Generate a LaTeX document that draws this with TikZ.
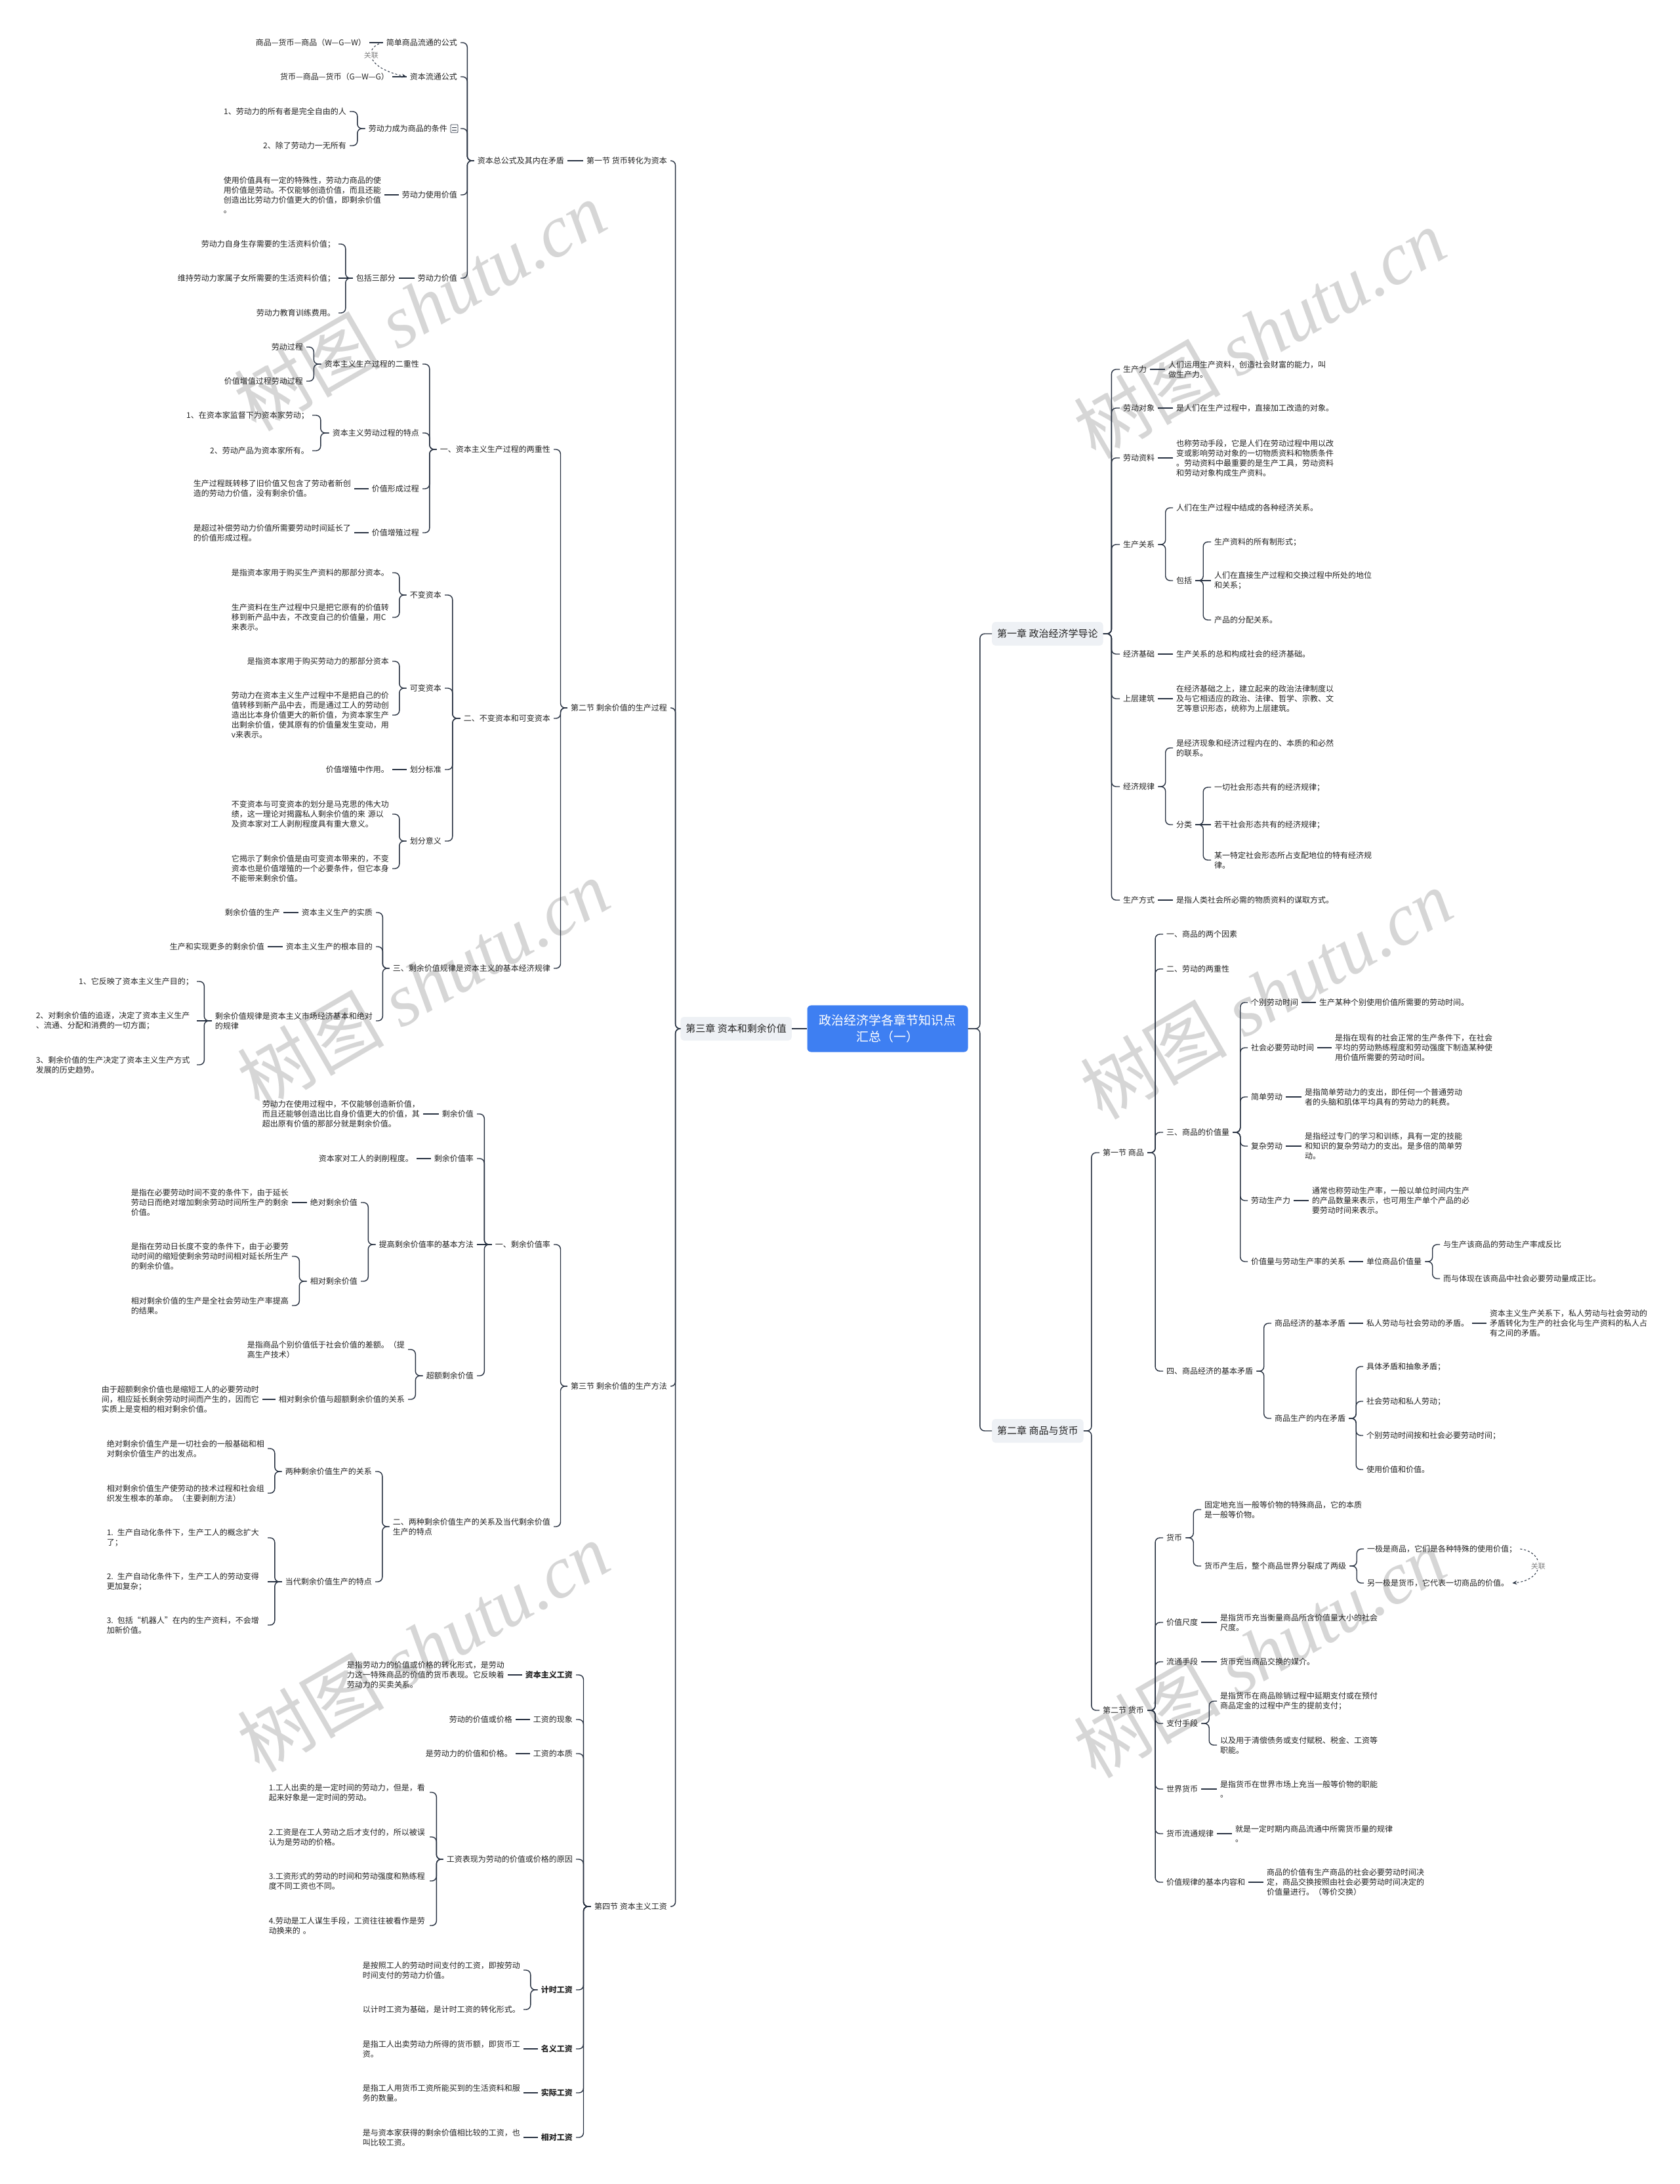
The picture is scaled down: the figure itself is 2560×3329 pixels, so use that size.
\documentclass[tikz,border=0pt]{standalone}
\usepackage{fontspec}
\setmainfont{Noto Sans CJK SC}
\newfontfamily\wmlatin{Liberation Serif}
\usetikzlibrary{calc,arrows.meta}
\definecolor{ink}{HTML}{222222}
\definecolor{edge}{HTML}{283242}
\definecolor{rootblue}{HTML}{3E7FF2}
\definecolor{chapfill}{HTML}{EEF1F5}
\definecolor{wmgray}{HTML}{D6D6D6}
\tikzset{
  leaf/.style={font=\fontsize{12}{15}\selectfont, text=ink, inner xsep=5pt, inner ysep=2pt, align=left},
  desc/.style={leaf, text width=240pt},
  chap/.style={font=\fontsize{15}{18}\selectfont, text=ink, fill=chapfill, rounded corners=5pt, inner xsep=8pt, minimum height=36pt},
  root/.style={font=\fontsize{19}{25}\selectfont, text=white, fill=rootblue, rounded corners=6pt, inner xsep=18pt, inner ysep=14pt, align=center},
  link/.style={draw=edge, line width=1.4pt, rounded corners=7pt},
  elbow/.style={to path={let \p1=(\tikztostart), \p2=(\tikztotarget) in
    -- ({0.5*\x1+0.5*\x2},\y1) -- ({0.5*\x1+0.5*\x2},\y2) -- (\tikztotarget)}},
  rel/.style={draw=edge, line width=1pt, dashed, -{Stealth[length=7pt,width=6pt]}},
  rellabel/.style={font=\fontsize{11}{13}\selectfont, text=gray, fill=white, inner sep=1pt},
  wm/.style={text=wmgray, rotate=30, font=\fontsize{112}{112}\selectfont}
}
\begin{document}
\begin{tikzpicture}[x=1pt,y=-1pt]
\useasboundingbox (0,0) rectangle (2560,3329);
\fill[white] (0,0) rectangle (2560,3329);

\node[wm] at (640,466) {树图 {\wmlatin\itshape shutu.cn}};
\node[wm] at (645,1500) {树图 {\wmlatin\itshape shutu.cn}};
\node[wm] at (645,2510) {树图 {\wmlatin\itshape shutu.cn}};
\node[wm] at (1920,508) {树图 {\wmlatin\itshape shutu.cn}};
\node[wm] at (1930,1515) {树图 {\wmlatin\itshape shutu.cn}};
\node[wm] at (1920,2519) {树图 {\wmlatin\itshape shutu.cn}};

\node[root] (root) at (1353,1568) {政治经济学各章节知识点\\汇总（一）};
\node[chap,anchor=east] (c3) at (1207,1568) {第三章 资本和剩余价值};
\node[chap,anchor=west] (ch1) at (1512,966) {第一章 政治经济学导论};
\node[chap,anchor=west] (ch2) at (1512,2181) {第二章 商品与货币};

\node[leaf,anchor=east] (s1) at (1022,245) {第一节 货币转化为资本};
\node[leaf,anchor=east] (s2) at (1022,1079) {第二节 剩余价值的生产过程};
\node[leaf,anchor=east] (s3) at (1022,2113) {第三节 剩余价值的生产方法};
\node[leaf,anchor=east] (s4) at (1022,2906) {第四节 资本主义工资};

\node[leaf,anchor=east] (a1) at (865,245) {资本总公式及其内在矛盾};
\node[leaf,anchor=east] (a11) at (702,65) {简单商品流通的公式};
\node[leaf,anchor=east] (a12) at (702,117) {资本流通公式};
\node[leaf,anchor=east] (a13) at (702,196) {劳动力成为商品的条件\hspace{15pt}};
\node[leaf,anchor=east] (a14) at (702,297) {劳动力使用价值};
\node[leaf,anchor=east] (a15) at (702,424) {劳动力价值};
\node[leaf,anchor=east] (a111) at (563,65) {商品—货币—商品（W—G—W）};
\node[leaf,anchor=east] (a121) at (598,117) {货币—商品—货币（G—W—G）};
\node[leaf,anchor=east] (a131) at (533,170) {1、劳动力的所有者是完全自由的人};
\node[leaf,anchor=east] (a132) at (533,222) {2、除了劳动力一无所有};
\node[desc,anchor=east] (a141) at (586,297) {使用价值具有一定的特殊性，劳动力商品的使\\用价值是劳动。不仅能够创造价值，而且还能\\创造出比劳动力价值更大的价值，即剩余价值\\。};
\node[leaf,anchor=east] (a151) at (608,424) {包括三部分};
\node[leaf,anchor=east] (a1511) at (516,372) {劳动力自身生存需要的生活资料价值；};
\node[leaf,anchor=east] (a1512) at (516,424) {维持劳动力家属子女所需要的生活资料价值；};
\node[leaf,anchor=east] (a1513) at (516,477) {劳动力教育训练费用。};

\node[leaf,anchor=east] (b1) at (844,685) {一、资本主义生产过程的两重性};
\node[leaf,anchor=east] (b2) at (844,1095) {二、不变资本和可变资本};
\node[leaf,anchor=east] (b3) at (844,1476) {三、剩余价值规律是资本主义的基本经济规律};
\node[leaf,anchor=east] (b11) at (644,555) {资本主义生产过程的二重性};
\node[leaf,anchor=east] (b12) at (644,660) {资本主义劳动过程的特点};
\node[leaf,anchor=east] (b13) at (644,745) {价值形成过程};
\node[leaf,anchor=east] (b14) at (644,812) {价值增殖过程};
\node[leaf,anchor=east] (b111) at (467,529) {劳动过程};
\node[leaf,anchor=east] (b112) at (467,581) {价值增值过程劳动过程};
\node[leaf,anchor=east] (b121) at (476,633) {1、在资本家监督下为资本家劳动；};
\node[leaf,anchor=east] (b122) at (476,687) {2、劳动产品为资本家所有。};
\node[desc,anchor=east] (b131) at (540,745) {生产过程既转移了旧价值又包含了劳动者新创\\造的劳动力价值，没有剩余价值。};
\node[desc,anchor=east] (b141) at (540,812) {是超过补偿劳动力价值所需要劳动时间延长了\\的价值形成过程。};
\node[leaf,anchor=east] (b21) at (678,907) {不变资本};
\node[leaf,anchor=east] (b22) at (678,1049) {可变资本};
\node[leaf,anchor=east] (b23) at (678,1173) {划分标准};
\node[leaf,anchor=east] (b24) at (678,1282) {划分意义};
\node[leaf,anchor=east] (b211) at (598,873) {是指资本家用于购买生产资料的那部分资本。};
\node[desc,anchor=east] (b212) at (598,941) {生产资料在生产过程中只是把它原有的价值转\\移到新产品中去，不改变自己的价值量，用C\\来表示。};
\node[leaf,anchor=east] (b221) at (598,1008) {是指资本家用于购买劳动力的那部分资本};
\node[desc,anchor=east] (b222) at (598,1090) {劳动力在资本主义生产过程中不是把自己的价\\值转移到新产品中去，而是通过工人的劳动创\\造出比本身价值更大的新价值，为资本家生产\\出剩余价值，使其原有的价值量发生变动，用\\v来表示。};
\node[leaf,anchor=east] (b231) at (598,1173) {价值增殖中作用。};
\node[desc,anchor=east] (b241) at (598,1241) {不变资本与可变资本的划分是马克思的伟大功\\绩，这一理论对揭露私人剩余价值的来 源以\\及资本家对工人剥削程度具有重大意义。};
\node[desc,anchor=east] (b242) at (598,1324) {它揭示了剩余价值是由可变资本带来的，不变\\资本也是价值增殖的一个必要条件，但它本身\\不能带来剩余价值。};
\node[leaf,anchor=east] (b31) at (573,1391) {资本主义生产的实质};
\node[leaf,anchor=east] (b32) at (573,1443) {资本主义生产的根本目的};
\node[desc,anchor=east] (b33) at (573,1556) {剩余价值规律是资本主义市场经济基本和绝对\\的规律};
\node[leaf,anchor=east] (b311) at (432,1391) {剩余价值的生产};
\node[leaf,anchor=east] (b321) at (408,1443) {生产和实现更多的剩余价值};
\node[leaf,anchor=east] (b331) at (300,1496) {1、它反映了资本主义生产目的；};
\node[desc,anchor=east] (b332) at (300,1556) {2、对剩余价值的追逐，决定了资本主义生产\\、流通、分配和消费的一切方面；};
\node[desc,anchor=east] (b333) at (300,1623) {3、剩余价值的生产决定了资本主义生产方式\\发展的历史趋势。};

\node[leaf,anchor=east] (c1) at (844,1897) {一、剩余价值率};
\node[desc,anchor=east] (c2) at (844,2327) {二、两种剩余价值生产的关系及当代剩余价值\\生产的特点};
\node[leaf,anchor=east] (c11) at (727,1698) {剩余价值};
\node[leaf,anchor=east] (c12) at (727,1766) {剩余价值率};
\node[leaf,anchor=east] (c13) at (727,1897) {提高剩余价值率的基本方法};
\node[leaf,anchor=east] (c14) at (727,2097) {超额剩余价值};
\node[desc,anchor=east] (c111) at (645,1698) {劳动力在使用过程中，不仅能够创造新价值，\\而且还能够创造出比自身价值更大的价值，其\\超出原有价值的那部分就是剩余价值。};
\node[leaf,anchor=east] (c121) at (635,1766) {资本家对工人的剥削程度。};
\node[leaf,anchor=east] (c131) at (550,1833) {绝对剩余价值};
\node[leaf,anchor=east] (c132) at (550,1953) {相对剩余价值};
\node[desc,anchor=east] (c1311) at (445,1833) {是指在必要劳动时间不变的条件下，由于延长\\劳动日而绝对增加剩余劳动时间所生产的剩余\\价值。};
\node[desc,anchor=east] (c1321) at (445,1915) {是指在劳动日长度不变的条件下，由于必要劳\\动时间的缩短使剩余劳动时间相对延长所生产\\的剩余价值。};
\node[desc,anchor=east] (c1322) at (445,1990) {相对剩余价值的生产是全社会劳动生产率提高\\的结果。};
\node[desc,anchor=east] (c141) at (622,2057) {是指商品个别价值低于社会价值的差额。（提\\高生产技术）};
\node[leaf,anchor=east] (c142) at (622,2133) {相对剩余价值与超额剩余价值的关系};
\node[desc,anchor=east] (c1421) at (400,2133) {由于超额剩余价值也是缩短工人的必要劳动时\\间，相应延长剩余劳动时间而产生的，因而它\\实质上是变相的相对剩余价值。};
\node[leaf,anchor=east] (c21) at (572,2243) {两种剩余价值生产的关系};
\node[leaf,anchor=east] (c22) at (572,2411) {当代剩余价值生产的特点};
\node[desc,anchor=east] (c211) at (408,2208) {绝对剩余价值生产是一切社会的一般基础和相\\对剩余价值生产的出发点。};
\node[desc,anchor=east] (c212) at (408,2276) {相对剩余价值生产使劳动的技术过程和社会组\\织发生根本的革命。（主要剥削方法）};
\node[desc,anchor=east] (c221) at (408,2344) {1. 生产自动化条件下，生产工人的概念扩大\\了；};
\node[desc,anchor=east] (c222) at (408,2411) {2. 生产自动化条件下，生产工人的劳动变得\\更加复杂；};
\node[desc,anchor=east] (c223) at (408,2477) {3. 包括“机器人”在内的生产资料，不会增\\加新价值。};

\node[leaf,anchor=east] (d1) at (878,2553) {\bfseries 资本主义工资};
\node[leaf,anchor=east] (d2) at (878,2621) {工资的现象};
\node[leaf,anchor=east] (d3) at (878,2673) {工资的本质};
\node[leaf,anchor=east] (d4) at (878,2834) {工资表现为劳动的价值或价格的原因};
\node[leaf,anchor=east] (d5) at (878,3033) {\bfseries 计时工资};
\node[leaf,anchor=east] (d6) at (878,3123) {\bfseries 名义工资};
\node[leaf,anchor=east] (d7) at (878,3190) {\bfseries 实际工资};
\node[leaf,anchor=east] (d8) at (878,3258) {\bfseries 相对工资};
\node[desc,anchor=east] (d11) at (774,2553) {是指劳动力的价值或价格的转化形式，是劳动\\力这一特殊商品的价值的货币表现。它反映着\\劳动力的买卖关系。};
\node[leaf,anchor=east] (d21) at (786,2621) {劳动的价值或价格};
\node[leaf,anchor=east] (d31) at (786,2673) {是劳动力的价值和价格。};
\node[desc,anchor=east] (d41) at (655,2732) {1.工人出卖的是一定时间的劳动力，但是，看\\起来好象是一定时间的劳动。};
\node[desc,anchor=east] (d42) at (655,2800) {2.工资是在工人劳动之后才支付的，所以被误\\认为是劳动的价格。};
\node[desc,anchor=east] (d43) at (655,2867) {3.工资形式的劳动的时间和劳动强度和熟练程\\度不同工资也不同。};
\node[desc,anchor=east] (d44) at (655,2935) {4.劳动是工人谋生手段，工资往往被看作是劳\\动换来的 。};
\node[desc,anchor=east] (d51) at (798,3003) {是按照工人的劳动时间支付的工资，即按劳动\\时间支付的劳动力价值。};
\node[leaf,anchor=east] (d52) at (798,3063) {以计时工资为基础，是计时工资的转化形式。};
\node[desc,anchor=east] (d61) at (798,3123) {是指工人出卖劳动力所得的货币额，即货币工\\资。};
\node[desc,anchor=east] (d71) at (798,3190) {是指工人用货币工资所能买到的生活资料和服\\务的数量。};
\node[desc,anchor=east] (d81) at (798,3258) {是与资本家获得的剩余价值相比较的工资，也\\叫比较工资。};

\node[leaf,anchor=west] (e1) at (1707,563) {生产力};
\node[leaf,anchor=west] (e2) at (1707,622) {劳动对象};
\node[leaf,anchor=west] (e3) at (1707,698) {劳动资料};
\node[leaf,anchor=west] (e4) at (1707,830) {生产关系};
\node[leaf,anchor=west] (e5) at (1707,997) {经济基础};
\node[leaf,anchor=west] (e6) at (1707,1065) {上层建筑};
\node[leaf,anchor=west] (e7) at (1707,1199) {经济规律};
\node[leaf,anchor=west] (e8) at (1707,1372) {生产方式};
\node[desc,anchor=west] (e11) at (1776,563) {人们运用生产资料，创造社会财富的能力，叫\\做生产力。};
\node[leaf,anchor=west] (e21) at (1788,622) {是人们在生产过程中，直接加工改造的对象。};
\node[desc,anchor=west] (e31) at (1788,698) {也称劳动手段，它是人们在劳动过程中用以改\\变或影响劳动对象的一切物质资料和物质条件\\。劳动资料中最重要的是生产工具，劳动资料\\和劳动对象构成生产资料。};
\node[leaf,anchor=west] (e41) at (1788,774) {人们在生产过程中结成的各种经济关系。};
\node[leaf,anchor=west] (e42) at (1788,885) {包括};
\node[leaf,anchor=west] (e421) at (1846,826) {生产资料的所有制形式；};
\node[desc,anchor=west] (e422) at (1846,885) {人们在直接生产过程和交换过程中所处的地位\\和关系；};
\node[leaf,anchor=west] (e423) at (1846,945) {产品的分配关系。};
\node[leaf,anchor=west] (e51) at (1788,997) {生产关系的总和构成社会的经济基础。};
\node[desc,anchor=west] (e61) at (1788,1065) {在经济基础之上，建立起来的政治法律制度以\\及与它相适应的政治、法律、哲学、宗教、文\\艺等意识形态，统称为上层建筑。};
\node[desc,anchor=west] (e71) at (1788,1140) {是经济现象和经济过程内在的、本质的和必然\\的联系。};
\node[leaf,anchor=west] (e72) at (1788,1257) {分类};
\node[leaf,anchor=west] (e721) at (1846,1200) {一切社会形态共有的经济规律；};
\node[leaf,anchor=west] (e722) at (1846,1257) {若干社会形态共有的经济规律；};
\node[desc,anchor=west] (e723) at (1846,1311) {某一特定社会形态所占支配地位的特有经济规\\律。};
\node[leaf,anchor=west] (e81) at (1788,1372) {是指人类社会所必需的物质资料的谋取方式。};

\node[leaf,anchor=west] (f1) at (1676,1757) {第一节 商品};
\node[leaf,anchor=west] (f2) at (1676,2607) {第二节 货币};
\node[leaf,anchor=west] (f11) at (1773,1424) {一、商品的两个因素};
\node[leaf,anchor=west] (f12) at (1773,1477) {二、劳动的两重性};
\node[leaf,anchor=west] (f13) at (1773,1726) {三、商品的价值量};
\node[leaf,anchor=west] (f14) at (1773,2090) {四、商品经济的基本矛盾};
\node[leaf,anchor=west] (f131) at (1902,1528) {个别劳动时间};
\node[leaf,anchor=west] (f132) at (1902,1597) {社会必要劳动时间};
\node[leaf,anchor=west] (f133) at (1902,1672) {简单劳动};
\node[leaf,anchor=west] (f134) at (1902,1747) {复杂劳动};
\node[leaf,anchor=west] (f135) at (1902,1830) {劳动生产力};
\node[leaf,anchor=west] (f136) at (1902,1923) {价值量与劳动生产率的关系};
\node[leaf,anchor=west] (f1311) at (2006,1528) {生产某种个别使用价值所需要的劳动时间。};
\node[desc,anchor=west] (f1321) at (2030,1597) {是指在现有的社会正常的生产条件下，在社会\\平均的劳动熟练程度和劳动强度下制造某种使\\用价值所需要的劳动时间。};
\node[desc,anchor=west] (f1331) at (1984,1672) {是指简单劳动力的支出，即任何一个普通劳动\\者的头脑和肌体平均具有的劳动力的耗费。};
\node[desc,anchor=west] (f1341) at (1984,1747) {是指经过专门的学习和训练，具有一定的技能\\和知识的复杂劳动力的支出。是多倍的简单劳\\动。};
\node[desc,anchor=west] (f1351) at (1995,1830) {通常也称劳动生产率，一般以单位时间内生产\\的产品数量来表示，也可用生产单个产品的必\\要劳动时间来表示。};
\node[leaf,anchor=west] (f1361) at (2078,1923) {单位商品价值量};
\node[leaf,anchor=west] (f13611) at (2195,1897) {与生产该商品的劳动生产率成反比};
\node[leaf,anchor=west] (f13612) at (2195,1949) {而与体现在该商品中社会必要劳动量成正比。};
\node[leaf,anchor=west] (f141) at (1938,2017) {商品经济的基本矛盾};
\node[leaf,anchor=west] (f142) at (1938,2162) {商品生产的内在矛盾};
\node[leaf,anchor=west] (f1411) at (2078,2017) {私人劳动与社会劳动的矛盾。};
\node[desc,anchor=west] (f14111) at (2266,2017) {资本主义生产关系下，私人劳动与社会劳动的\\矛盾转化为生产的社会化与生产资料的私人占\\有之间的矛盾。};
\node[leaf,anchor=west] (f1421) at (2078,2083) {具体矛盾和抽象矛盾；};
\node[leaf,anchor=west] (f1422) at (2078,2136) {社会劳动和私人劳动；};
\node[leaf,anchor=west] (f1423) at (2078,2188) {个别劳动时间按和社会必要劳动时间；};
\node[leaf,anchor=west] (f1424) at (2078,2240) {使用价值和价值。};
\node[leaf,anchor=west] (f21) at (1773,2344) {货币};
\node[leaf,anchor=west] (f22) at (1773,2473) {价值尺度};
\node[leaf,anchor=west] (f23) at (1773,2533) {流通手段};
\node[leaf,anchor=west] (f24) at (1773,2627) {支付手段};
\node[leaf,anchor=west] (f25) at (1773,2727) {世界货币};
\node[leaf,anchor=west] (f26) at (1773,2795) {货币流通规律};
\node[leaf,anchor=west] (f27) at (1773,2869) {价值规律的基本内容和};
\node[desc,anchor=west] (f211) at (1831,2301) {固定地充当一般等价物的特殊商品，它的本质\\是一般等价物。};
\node[leaf,anchor=west] (f212) at (1831,2387) {货币产生后，整个商品世界分裂成了两级};
\node[leaf,anchor=west] (f2121) at (2079,2361) {一极是商品，它们是各种特殊的使用价值；};
\node[leaf,anchor=west] (f2122) at (2079,2413) {另一极是货币，它代表一切商品的价值。};
\node[desc,anchor=west] (f221) at (1855,2473) {是指货币充当衡量商品所含价值量大小的社会\\尺度。};
\node[leaf,anchor=west] (f231) at (1855,2533) {货币充当商品交换的媒介。};
\node[desc,anchor=west] (f241) at (1855,2593) {是指货币在商品赊销过程中延期支付或在预付\\商品定金的过程中产生的提前支付；};
\node[desc,anchor=west] (f242) at (1855,2660) {以及用于清偿债务或支付赋税、税金、工资等\\职能。};
\node[desc,anchor=west] (f251) at (1855,2727) {是指货币在世界市场上充当一般等价物的职能\\。};
\node[desc,anchor=west] (f261) at (1878,2795) {就是一定时期内商品流通中所需货币量的规律\\。};
\node[desc,anchor=west] (f271) at (1926,2869) {商品的价值有生产商品的社会必要劳动时间决\\定，商品交换按照由社会必要劳动时间决定的\\价值量进行。（等价交换）};

\draw[edge,line width=0.9pt,rounded corners=1pt] ($(a13.east)+(-15,-6)$) rectangle ++(11,12);
\draw[edge,line width=0.7pt] ($(a13.east)+(-13,-2)$) -- ++(7,0) ($(a13.east)+(-13,2)$) -- ++(7,0);

\draw[link] (root.west) -- (c3.east);
\draw[link] (root.east) to[elbow] (ch1.west);
\draw[link] (root.east) to[elbow] (ch2.west);

\draw[link] (c3.west) to[elbow] (s1.east);
\draw[link] (c3.west) to[elbow] (s2.east);
\draw[link] (c3.west) to[elbow] (s3.east);
\draw[link] (c3.west) to[elbow] (s4.east);

\draw[link] (s1.west) -- (a1.east);
\draw[link] (a1.west) to[elbow] (a11.east);
\draw[link] (a1.west) to[elbow] (a12.east);
\draw[link] (a1.west) to[elbow] (a13.east);
\draw[link] (a1.west) to[elbow] (a14.east);
\draw[link] (a1.west) to[elbow] (a15.east);
\draw[link] (a11.west) -- (a111.east);
\draw[link] (a12.west) -- (a121.east);
\draw[link] (a13.west) to[elbow] (a131.east);
\draw[link] (a13.west) to[elbow] (a132.east);
\draw[link] (a14.west) -- (a141.east);
\draw[link] (a15.west) -- (a151.east);
\draw[link] (a151.west) to[elbow] (a1511.east);
\draw[link] (a151.west) -- (a1512.east);
\draw[link] (a151.west) to[elbow] (a1513.east);

\draw[link] (s2.west) to[elbow] (b1.east);
\draw[link] (s2.west) to[elbow] (b2.east);
\draw[link] (s2.west) to[elbow] (b3.east);
\draw[link] (b1.west) to[elbow] (b11.east);
\draw[link] (b1.west) to[elbow] (b12.east);
\draw[link] (b1.west) to[elbow] (b13.east);
\draw[link] (b1.west) to[elbow] (b14.east);
\draw[link] (b11.west) to[elbow] (b111.east);
\draw[link] (b11.west) to[elbow] (b112.east);
\draw[link] (b12.west) to[elbow] (b121.east);
\draw[link] (b12.west) to[elbow] (b122.east);
\draw[link] (b13.west) -- (b131.east);
\draw[link] (b14.west) -- (b141.east);
\draw[link] (b2.west) to[elbow] (b21.east);
\draw[link] (b2.west) to[elbow] (b22.east);
\draw[link] (b2.west) to[elbow] (b23.east);
\draw[link] (b2.west) to[elbow] (b24.east);
\draw[link] (b21.west) to[elbow] (b211.east);
\draw[link] (b21.west) to[elbow] (b212.east);
\draw[link] (b22.west) to[elbow] (b221.east);
\draw[link] (b22.west) to[elbow] (b222.east);
\draw[link] (b23.west) -- (b231.east);
\draw[link] (b24.west) to[elbow] (b241.east);
\draw[link] (b24.west) to[elbow] (b242.east);
\draw[link] (b3.west) to[elbow] (b31.east);
\draw[link] (b3.west) to[elbow] (b32.east);
\draw[link] (b3.west) to[elbow] (b33.east);
\draw[link] (b31.west) -- (b311.east);
\draw[link] (b32.west) -- (b321.east);
\draw[link] (b33.west) to[elbow] (b331.east);
\draw[link] (b33.west) -- (b332.east);
\draw[link] (b33.west) to[elbow] (b333.east);

\draw[link] (s3.west) to[elbow] (c1.east);
\draw[link] (s3.west) to[elbow] (c2.east);
\draw[link] (c1.west) to[elbow] (c11.east);
\draw[link] (c1.west) to[elbow] (c12.east);
\draw[link] (c1.west) -- (c13.east);
\draw[link] (c1.west) to[elbow] (c14.east);
\draw[link] (c11.west) -- (c111.east);
\draw[link] (c12.west) -- (c121.east);
\draw[link] (c13.west) to[elbow] (c131.east);
\draw[link] (c13.west) to[elbow] (c132.east);
\draw[link] (c131.west) -- (c1311.east);
\draw[link] (c132.west) to[elbow] (c1321.east);
\draw[link] (c132.west) to[elbow] (c1322.east);
\draw[link] (c14.west) to[elbow] (c141.east);
\draw[link] (c14.west) to[elbow] (c142.east);
\draw[link] (c142.west) -- (c1421.east);
\draw[link] (c2.west) to[elbow] (c21.east);
\draw[link] (c2.west) to[elbow] (c22.east);
\draw[link] (c21.west) to[elbow] (c211.east);
\draw[link] (c21.west) to[elbow] (c212.east);
\draw[link] (c22.west) to[elbow] (c221.east);
\draw[link] (c22.west) -- (c222.east);
\draw[link] (c22.west) to[elbow] (c223.east);

\draw[link] (s4.west) to[elbow] (d1.east);
\draw[link] (s4.west) to[elbow] (d2.east);
\draw[link] (s4.west) to[elbow] (d3.east);
\draw[link] (s4.west) to[elbow] (d4.east);
\draw[link] (s4.west) to[elbow] (d5.east);
\draw[link] (s4.west) to[elbow] (d6.east);
\draw[link] (s4.west) to[elbow] (d7.east);
\draw[link] (s4.west) to[elbow] (d8.east);
\draw[link] (d1.west) -- (d11.east);
\draw[link] (d2.west) -- (d21.east);
\draw[link] (d3.west) -- (d31.east);
\draw[link] (d4.west) to[elbow] (d41.east);
\draw[link] (d4.west) to[elbow] (d42.east);
\draw[link] (d4.west) to[elbow] (d43.east);
\draw[link] (d4.west) to[elbow] (d44.east);
\draw[link] (d5.west) to[elbow] (d51.east);
\draw[link] (d5.west) to[elbow] (d52.east);
\draw[link] (d6.west) -- (d61.east);
\draw[link] (d7.west) -- (d71.east);
\draw[link] (d8.west) -- (d81.east);

\draw[link] (ch1.east) to[elbow] (e1.west);
\draw[link] (ch1.east) to[elbow] (e2.west);
\draw[link] (ch1.east) to[elbow] (e3.west);
\draw[link] (ch1.east) to[elbow] (e4.west);
\draw[link] (ch1.east) to[elbow] (e5.west);
\draw[link] (ch1.east) to[elbow] (e6.west);
\draw[link] (ch1.east) to[elbow] (e7.west);
\draw[link] (ch1.east) to[elbow] (e8.west);
\draw[link] (e1.east) -- (e11.west);
\draw[link] (e2.east) -- (e21.west);
\draw[link] (e3.east) -- (e31.west);
\draw[link] (e4.east) to[elbow] (e41.west);
\draw[link] (e4.east) to[elbow] (e42.west);
\draw[link] (e42.east) to[elbow] (e421.west);
\draw[link] (e42.east) -- (e422.west);
\draw[link] (e42.east) to[elbow] (e423.west);
\draw[link] (e5.east) -- (e51.west);
\draw[link] (e6.east) -- (e61.west);
\draw[link] (e7.east) to[elbow] (e71.west);
\draw[link] (e7.east) to[elbow] (e72.west);
\draw[link] (e72.east) to[elbow] (e721.west);
\draw[link] (e72.east) -- (e722.west);
\draw[link] (e72.east) to[elbow] (e723.west);
\draw[link] (e8.east) -- (e81.west);

\draw[link] (ch2.east) to[elbow] (f1.west);
\draw[link] (ch2.east) to[elbow] (f2.west);
\draw[link] (f1.east) to[elbow] (f11.west);
\draw[link] (f1.east) to[elbow] (f12.west);
\draw[link] (f1.east) to[elbow] (f13.west);
\draw[link] (f1.east) to[elbow] (f14.west);
\draw[link] (f13.east) to[elbow] (f131.west);
\draw[link] (f13.east) to[elbow] (f132.west);
\draw[link] (f13.east) to[elbow] (f133.west);
\draw[link] (f13.east) to[elbow] (f134.west);
\draw[link] (f13.east) to[elbow] (f135.west);
\draw[link] (f13.east) to[elbow] (f136.west);
\draw[link] (f131.east) -- (f1311.west);
\draw[link] (f132.east) -- (f1321.west);
\draw[link] (f133.east) -- (f1331.west);
\draw[link] (f134.east) -- (f1341.west);
\draw[link] (f135.east) -- (f1351.west);
\draw[link] (f136.east) -- (f1361.west);
\draw[link] (f1361.east) to[elbow] (f13611.west);
\draw[link] (f1361.east) to[elbow] (f13612.west);
\draw[link] (f14.east) to[elbow] (f141.west);
\draw[link] (f14.east) to[elbow] (f142.west);
\draw[link] (f141.east) -- (f1411.west);
\draw[link] (f1411.east) -- (f14111.west);
\draw[link] (f142.east) to[elbow] (f1421.west);
\draw[link] (f142.east) to[elbow] (f1422.west);
\draw[link] (f142.east) to[elbow] (f1423.west);
\draw[link] (f142.east) to[elbow] (f1424.west);
\draw[link] (f2.east) to[elbow] (f21.west);
\draw[link] (f2.east) to[elbow] (f22.west);
\draw[link] (f2.east) to[elbow] (f23.west);
\draw[link] (f2.east) to[elbow] (f24.west);
\draw[link] (f2.east) to[elbow] (f25.west);
\draw[link] (f2.east) to[elbow] (f26.west);
\draw[link] (f2.east) to[elbow] (f27.west);
\draw[link] (f21.east) to[elbow] (f211.west);
\draw[link] (f21.east) to[elbow] (f212.west);
\draw[link] (f212.east) to[elbow] (f2121.west);
\draw[link] (f212.east) to[elbow] (f2122.west);
\draw[link] (f22.east) -- (f221.west);
\draw[link] (f23.east) -- (f231.west);
\draw[link] (f24.east) to[elbow] (f241.west);
\draw[link] (f24.east) to[elbow] (f242.west);
\draw[link] (f25.east) -- (f251.west);
\draw[link] (f26.east) -- (f261.west);
\draw[link] (f27.east) -- (f271.west);

\draw[rel] (a11.west) .. controls (558,70) and (552,102) .. (a12.west) node[rellabel,pos=0.45] {关联};
\draw[rel] (f2121.east) .. controls (2356,2366) and (2356,2408) .. (f2122.east) node[rellabel,midway] {关联};
\end{tikzpicture}
\end{document}
